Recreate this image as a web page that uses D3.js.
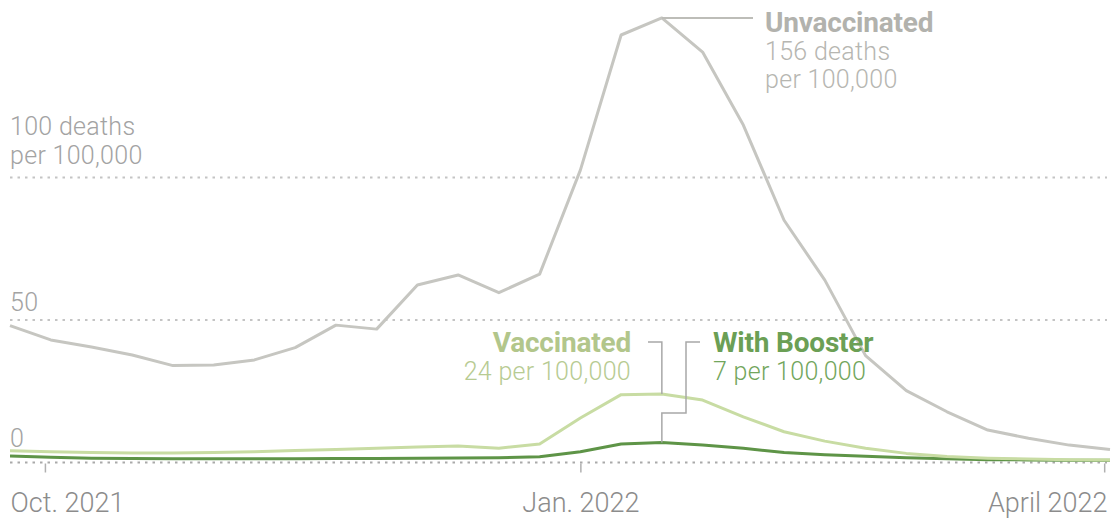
<!DOCTYPE html>
<html>
<head>
<meta charset="utf-8">
<script src="https://cdn.jsdelivr.net/npm/d3@7"></script>
<style>
  html, body { margin: 0; padding: 0; background: #fff; }
  svg { display: block; }
  text { font-family: Roboto, "Liberation Sans", Arial, sans-serif; }
</style>
</head>
<body>
<svg id="chart" width="1117" height="520"></svg>
<script>
// Weekly death rates per 100,000, by vaccination status
const weeks = [
  "2021-09-25", "2021-10-02", "2021-10-09", "2021-10-16", "2021-10-23", "2021-10-30",
  "2021-11-06", "2021-11-13", "2021-11-20", "2021-11-27", "2021-12-04", "2021-12-11",
  "2021-12-18", "2021-12-25", "2022-01-01", "2022-01-08", "2022-01-15", "2022-01-22",
  "2022-01-29", "2022-02-05", "2022-02-12", "2022-02-19", "2022-02-26", "2022-03-05",
  "2022-03-12", "2022-03-19", "2022-03-26", "2022-04-02"
];
const unvaccinated = [
  48, 43, 40.5, 37.7, 34, 34.2, 36, 40.3, 48.2, 46.8, 62.3, 65.8, 59.6, 66.1,
  102.6, 150, 156, 144, 118.4, 85, 64, 37.5, 25.2, 17.8, 11.4, 8.5, 6.1, 4.6
];
const vaccinated = [
  4.1, 3.8, 3.5, 3.3, 3.3, 3.5, 3.8, 4.2, 4.6, 5.0, 5.4, 5.8, 5.0, 6.5,
  15.6, 23.8, 24, 21.9, 16, 10.8, 7.5, 5, 3.2, 2.1, 1.5, 1.2, 1.0, 0.9
];
const boosted = [
  2.3, 1.8, 1.5, 1.4, 1.3, 1.3, 1.3, 1.3, 1.4, 1.4, 1.5, 1.6, 1.7, 2.0,
  3.8, 6.5, 7, 6.1, 5.0, 3.5, 2.7, 2.2, 1.7, 1.3, 1.0, 0.9, 0.8, 0.8
];
const gridValues = [0, 50, 100];
const monthTicks = ["2021-10-01", "2022-01-01", "2022-04-01"];
const monthLabels = ["Oct. 2021", "Jan. 2022", "April 2022"];

const parse = d3.utcParse("%Y-%m-%d");
const dates = weeks.map(parse);
const tickDates = monthTicks.map(parse);

const svg = d3.select("#chart");
const left = 10, right = 1110, gridRight = 1107;

const x = d3.scaleUtc()
  .domain(d3.extent(dates))
  .range([left, right]);
const y = d3.scaleLinear()
  .domain([0, 100])
  .range([462.5, 177.5]);

const lightText = sel => sel
  .style("font-size", "25px")
  .style("font-weight", 300)
  .style("letter-spacing", "0.3px");
const boldText = sel => sel
  .style("font-size", "28px")
  .style("font-weight", 700)
  .style("letter-spacing", "-0.2px");

// Dotted gridlines
svg.append("g")
  .selectAll("line")
  .data(gridValues)
  .join("line")
  .attr("x1", left)
  .attr("x2", gridRight)
  .attr("y1", d => y(d))
  .attr("y2", d => y(d))
  .attr("stroke", d => d === 0 ? "#a9a9a9" : "#c4c4c4")
  .attr("stroke-width", 2)
  .attr("stroke-dasharray", "2.5,5");

// Gridline labels
const gridLabel = svg.append("g").attr("fill", "#a3a3a3");
gridLabel.append("text").attr("x", left).attr("y", y(0) - 16).text("0").call(lightText);
gridLabel.append("text").attr("x", left).attr("y", y(50) - 9).text("50").call(lightText);
gridLabel.append("text").attr("x", left).attr("y", y(100) - 43).text("100 deaths").call(lightText);
gridLabel.append("text").attr("x", left).attr("y", y(100) - 14).text("per 100,000").call(lightText);

// Month axis
const xAxis = svg.append("g")
  .attr("transform", `translate(0,${y(0)})`)
  .call(d3.axisBottom(x)
    .tickValues(tickDates)
    .tickSize(10)
    .tickPadding(20)
    .tickFormat((d, i) => monthLabels[i]));
xAxis.select(".domain").remove();
xAxis.selectAll(".tick line")
  .attr("stroke", "#b0b0b0")
  .attr("stroke-width", 1.5)
  .attr("y1", 1);
xAxis.selectAll(".tick text")
  .attr("fill", "#8c8c8c")
  .style("font-size", "27px")
  .style("font-weight", 300)
  .style("font-family", "Roboto, 'Liberation Sans', Arial, sans-serif")
  .attr("text-anchor", (d, i) => i === 0 ? "start" : i === monthLabels.length - 1 ? "end" : "middle")
  .attr("dx", (d, i) => i === 0 ? left - x(d) : i === monthLabels.length - 1 ? gridRight - x(d) : 0);

// Series lines
const line = vals => d3.line()
  .x((d, i) => x(dates[i]))
  .y(d => y(d))(vals);

const series = [
  { name: "unvaccinated", values: unvaccinated, color: "#c6c6c1" },
  { name: "boosted", values: boosted, color: "#5e9447" },
  { name: "vaccinated", values: vaccinated, color: "#c8dca3" }
];
svg.append("g")
  .selectAll("path")
  .data(series)
  .join("path")
  .attr("d", d => line(d.values))
  .attr("fill", "none")
  .attr("stroke", d => d.color)
  .attr("stroke-width", 3)
  .attr("stroke-linejoin", "round");

// Annotations
const peakIdx = arr => arr.indexOf(d3.max(arr));
const leader = svg.append("g")
  .attr("fill", "none")
  .attr("stroke", "#a8a8a8")
  .attr("stroke-width", 1.5);

// Unvaccinated peak
const iu = peakIdx(unvaccinated);
const ux = x(dates[iu]), uy = y(unvaccinated[iu]);
leader.append("path")
  .attr("stroke", "#bdbdb8")
  .attr("stroke-width", 2)
  .attr("d", `M${ux},${uy}H753`);
const ug = svg.append("g");
ug.append("text").attr("x", 765).attr("y", 32)
  .attr("fill", "#b2b2ad").call(boldText)
  .text("Unvaccinated");
ug.append("text").attr("x", 765).attr("y", 60)
  .attr("fill", "#b6b6b1").call(lightText)
  .text(`${unvaccinated[iu]} deaths`);
ug.append("text").attr("x", 765).attr("y", 88)
  .attr("fill", "#b6b6b1").call(lightText)
  .text("per 100,000");

// Vaccinated peak
const iv = peakIdx(vaccinated);
const vx = x(dates[iv]), vy = y(vaccinated[iv]);
leader.append("path").attr("d", `M648,342H${vx}V${vy}`);
const vg = svg.append("g").attr("text-anchor", "end");
vg.append("text").attr("x", 631).attr("y", 352)
  .attr("fill", "#b2c68b").call(boldText)
  .text("Vaccinated");
vg.append("text").attr("x", 631).attr("y", 380)
  .attr("fill", "#b7cb92").call(lightText)
  .text(`${vaccinated[iv]} per 100,000`);

// Booster peak
const ib = peakIdx(boosted);
const bx = x(dates[ib]), by = y(boosted[ib]);
leader.append("path").attr("d", `M700,342H686V413H${bx}V${by}`);
const bg = svg.append("g");
bg.append("text").attr("x", 713).attr("y", 352)
  .attr("fill", "#6b9f55").call(boldText)
  .text("With Booster");
bg.append("text").attr("x", 713).attr("y", 380)
  .attr("fill", "#72a65c").call(lightText)
  .text(`${boosted[ib]} per 100,000`);
</script>
</body>
</html>
